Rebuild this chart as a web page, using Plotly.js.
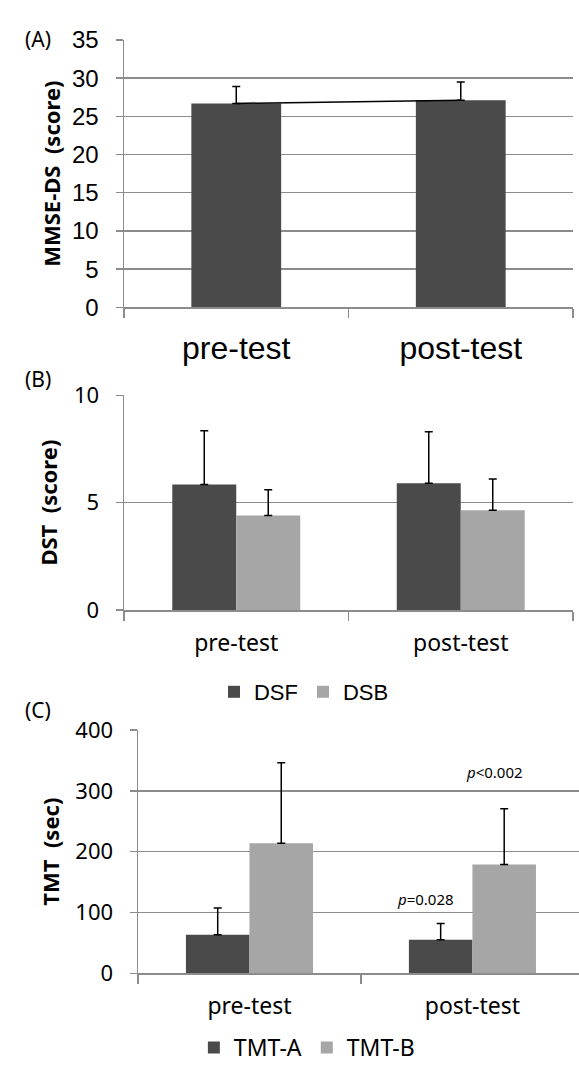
<!DOCTYPE html>
<html>
<head>
<meta charset="utf-8">
<script src="https://cdn.plot.ly/plotly-3.0.1.min.js"></script>
<style>html,body{margin:0;padding:0;background:#fff;}#chart{width:579px;height:1069px;}</style>
</head>
<body>
<div id="chart"></div>
<script>
// ---- data ----
const categories = ['pre-test', 'post-test'];

const mmseMean = [26.7, 27.1];
const mmseSD = [2.2, 2.4];

const dsfMean = [5.85, 5.9];
const dsfSD = [2.5, 2.4];
const dsbMean = [4.4, 4.65];
const dsbSD = [1.2, 1.45];

const tmtAMean = [63.5, 55.3];
const tmtASD = [44, 26.4];
const tmtBMean = [214, 178.8];
const tmtBSD = [132, 91.7];

const mmseTicks = [0, 5, 10, 15, 20, 25, 30, 35];
const dstTicks = [0, 5, 10];
const tmtTicks = [0, 100, 200, 300, 400];

const pTexts = ['<i>p</i>=0.028', '<i>p</i><0.002'];
const pX = [0.79, 1.1];
const pY = [122, 331];

// ---- styles ----
const DARK = '#4a4a4a', LIGHT = '#a6a6a6', GRID = '#8c8c8c';
const NOTO = 'Noto Sans, Open Sans, sans-serif';
const ARIAL = 'Liberation Sans, Arial, sans-serif';

function err(arr) {
  return {type: 'data', array: arr, arrayminus: arr.map(() => 0), symmetric: false,
          color: '#000', thickness: 1.5, width: 4};
}

const traces = [
  {type: 'bar', x: categories, y: mmseMean, error_y: err(mmseSD), width: 0.4,
   marker: {color: DARK}, xaxis: 'x', yaxis: 'y', showlegend: false, name: 'MMSE-DS'},
  {type: 'scatter', mode: 'lines', x: categories, y: mmseMean,
   line: {color: '#000', width: 1.5}, xaxis: 'x', yaxis: 'y', showlegend: false, hoverinfo: 'skip'},

  {type: 'bar', x: categories, y: dsfMean, error_y: err(dsfSD), name: 'DSF',
   marker: {color: DARK}, xaxis: 'x2', yaxis: 'y2', legend: 'legend2'},
  {type: 'bar', x: categories, y: dsbMean, error_y: err(dsbSD), name: 'DSB',
   marker: {color: LIGHT}, xaxis: 'x2', yaxis: 'y2', legend: 'legend2'},

  {type: 'bar', x: categories, y: tmtAMean, error_y: err(tmtASD), name: 'TMT-A',
   marker: {color: DARK}, xaxis: 'x3', yaxis: 'y3', legend: 'legend3'},
  {type: 'bar', x: categories, y: tmtBMean, error_y: err(tmtBSD), name: 'TMT-B',
   marker: {color: LIGHT}, xaxis: 'x3', yaxis: 'y3', legend: 'legend3'}
];

function xAxis(domain, anchor, range, font) {
  return {domain: domain, anchor: anchor, type: 'category', range: range,
    tickson: 'boundaries', ticks: 'outside', ticklen: 9, tickwidth: 1.5, tickcolor: GRID,
    showline: true, linecolor: GRID, linewidth: 1.5, showgrid: false, zeroline: false,
    tickfont: font, ticklabelstandoff: 12, fixedrange: true, automargin: false};
}
function yAxis(domain, anchor, range, vals, font, title, standoff) {
  return {domain: domain, anchor: anchor, range: range, tickvals: vals, ticktext: vals.map(String),
    ticks: 'outside', ticklen: 7, tickwidth: 1.5, tickcolor: GRID,
    showline: true, linecolor: GRID, linewidth: 1.5,
    showgrid: true, gridcolor: GRID, gridwidth: 1.5, zeroline: false,
    tickfont: font, ticklabelstandoff: 12, fixedrange: true, automargin: false,
    title: {text: title, font: {family: NOTO, size: 22, color: '#000'}, standoff: standoff}};
}

const layout = {
  width: 579, height: 1069,
  margin: {l: 0, r: 0, t: 0, b: 0, autoexpand: false},
  paper_bgcolor: '#fff', plot_bgcolor: '#fff',
  barmode: 'group', bargap: 0.43, bargroupgap: 0,
  showlegend: true,
  xaxis: xAxis([124/579, 573/579], 'y', [-0.5, 1.5], {family: ARIAL, size: 32, color: '#000'}),
  yaxis: yAxis([1 - 307.3/1069, 1 - 40/1069], 'x', [0, 35], mmseTicks,
               {family: ARIAL, size: 24, color: '#000'}, '<b>MMSE-DS\u00a0 (score)</b>', 5),
  xaxis2: xAxis([124/579, 573/579], 'y2', [-0.5, 1.5], {family: NOTO, size: 23, color: '#000'}),
  yaxis2: yAxis([1 - 610/1069, 1 - 395.3/1069], 'x2', [0, 10], dstTicks,
                {family: NOTO, size: 22, color: '#000'}, '<b>DST\u00a0 (score)</b>', 10),
  xaxis3: xAxis([138/579, 1], 'y3', [-0.5, 1.478], {family: NOTO, size: 23, color: '#000'}),
  yaxis3: yAxis([1 - 973.3/1069, 1 - 730/1069], 'x3', [0, 400], tmtTicks,
                {family: NOTO, size: 22, color: '#000'}, '<b>TMT\u00a0 (sec)</b>', 9),
  legend2: {orientation: 'h', x: 0.525, xanchor: 'center', y: 1 - 692/1069, yanchor: 'middle',
            font: {family: ARIAL, size: 22, color: '#000'}, bgcolor: 'rgba(0,0,0,0)'},
  legend3: {orientation: 'h', x: 0.53, xanchor: 'center', y: 0, yanchor: 'bottom',
            font: {family: NOTO, size: 23, color: '#000'}, bgcolor: 'rgba(0,0,0,0)'},
  annotations: [
    {text: '(A)', xref: 'paper', yref: 'paper', x: 23/579, y: 1 - 23/1069, showarrow: false,
     font: {family: NOTO, size: 21, color: '#000'}},
    {text: '(B)', xref: 'paper', yref: 'paper', x: 23/579, y: 1 - 379/1069, showarrow: false,
     font: {family: NOTO, size: 21, color: '#000'}},
    {text: '(C)', xref: 'paper', yref: 'paper', x: 23/579, y: 1 - 710/1069, showarrow: false,
     font: {family: NOTO, size: 21, color: '#000'}}
  ].concat(pTexts.map((t, i) => ({
    text: t, xref: 'x3', yref: 'y3', x: pX[i], y: pY[i], showarrow: false,
    font: {family: NOTO, size: 15, color: '#000'}
  })))
};

Plotly.newPlot('chart', traces, layout, {staticPlot: true, displayModeBar: false});
</script>
</body>
</html>
